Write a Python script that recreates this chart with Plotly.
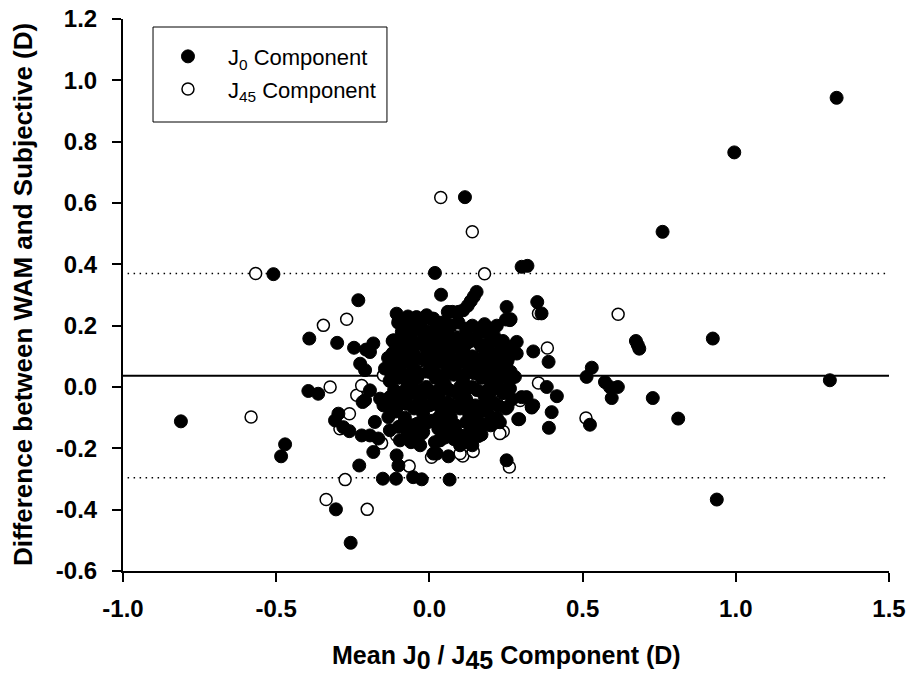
import plotly.graph_objects as go

# ---------------- data ----------------
# J0 component: mean (x) and difference (y)
j0_x = [
    -0.811, -0.509, -0.471, -0.484, -0.392, -0.395, -0.363, -0.301, -0.246, -0.232,
    -0.207, -0.183, -0.194, -0.226, -0.210, -0.194, -0.210, -0.218, -0.161, -0.139,
    -0.129, -0.150, -0.297, -0.308, -0.281, -0.261, -0.221, -0.194, -0.167, -0.178,
    -0.183, -0.229, -0.305, -0.257, -0.152, -0.109, -0.053, -0.025, 0.066, -0.107,
    -0.101, -0.115, -0.085, -0.107, -0.085, -0.042, -0.009, 0.013, 0.018, 0.038,
    0.116, 0.154, 0.145, 0.135, 0.125, 0.110, 0.095, 0.075, 0.060, 0.301,
    0.320, 0.252, 0.265, 0.352, 0.366, 0.761, 0.995, 1.329, 0.674, 0.680,
    0.685, 0.925, 1.307, 0.530, 0.513, 0.573, 0.589, 0.615, 0.595, 0.729,
    0.812, 0.938, 0.524, 0.339, 0.389, 0.285, 0.285, 0.263, 0.383, 0.416,
    0.399, 0.390, 0.334, 0.301, 0.293, 0.252, 0.013, 0.062, 0.032, -0.025,
    -0.020, 0.018, 0.029, 0.024, 0.279, 0.203, 0.236, 0.263, 0.339,
    # dense central cloud
    -0.100, -0.070, -0.040, -0.010, 0.010, 0.040, 0.070, 0.120, 0.160, 0.200, 0.220, 0.250,
    -0.120, -0.090, -0.060, -0.030, 0.000, 0.030, 0.060, 0.090, 0.120, 0.150, 0.180, 0.210, 0.240,
    -0.120, -0.100, -0.070, -0.040, -0.010, 0.020, 0.050, 0.080, 0.110, 0.140, 0.170, 0.200, 0.230, 0.260,
    -0.110, -0.080, -0.050, -0.020, 0.010, 0.040, 0.070, 0.100, 0.130, 0.160, 0.190, 0.220, 0.250,
    -0.130, -0.100, -0.070, -0.040, -0.010, 0.020, 0.050, 0.080, 0.110, 0.140, 0.170, 0.200, 0.230, 0.260,
    -0.120, -0.090, -0.060, -0.030, 0.000, 0.030, 0.060, 0.090, 0.120, 0.150, 0.180, 0.210, 0.240, 0.270, 0.317,
    -0.110, -0.080, -0.050, -0.020, 0.010, 0.040, 0.070, 0.100, 0.130, 0.160, 0.190, 0.220, 0.250, 0.290, 0.334,
    -0.100, -0.070, -0.040, 0.070, 0.090, 0.110, 0.130, 0.150, 0.170, 0.190,
    -0.096, -0.060, -0.030, 0.035, 0.080, 0.100, 0.120, 0.140,
    -0.050, 0.000, 0.050, 0.100, 0.000, 0.060, 0.030, -0.020, 0.080, 0.150, -0.080, 0.120,
    -0.140, -0.145, -0.134, -0.129, -0.118, -0.118, -0.102, 0.180, 0.205, 0.165,
    -0.085, -0.055, -0.025, 0.025, 0.055, 0.095, 0.140, 0.180,
    -0.105, -0.075, -0.045, -0.015, 0.015, 0.045, 0.075, 0.105, 0.135, 0.165, 0.195, 0.225, 0.260,
    -0.135, -0.105, -0.075, -0.045, -0.015, 0.015, 0.045, 0.075, 0.105, 0.135, 0.165, 0.195, 0.225, 0.255,
    -0.125, -0.095, -0.065, -0.035, -0.005, 0.025, 0.055, 0.085, 0.115, 0.145, 0.175, 0.205, 0.235, 0.265,
    -0.115, -0.085, -0.055, -0.025, 0.005, 0.035, 0.065, 0.095, 0.125, 0.155, 0.185, 0.215, 0.245,
    -0.135, -0.105, -0.075, -0.045, -0.015, 0.015, 0.045, 0.075, 0.105, 0.135, 0.165, 0.195, 0.225, 0.255,
    -0.085, -0.055, -0.005, 0.045, 0.085, 0.120, 0.160, 0.200, 0.230,
    -0.075, -0.045, 0.050, 0.090, 0.130, 0.160,
]
j0_y = [
    -0.112, 0.368, -0.187, -0.226, 0.158, -0.013, -0.022, 0.144, 0.128, 0.283,
    0.122, 0.142, 0.114, 0.076, 0.055, -0.011, -0.043, -0.049, -0.038, -0.054,
    -0.033, -0.060, -0.087, -0.109, -0.131, -0.144, -0.158, -0.158, -0.168, -0.114,
    -0.212, -0.256, -0.399, -0.508, -0.299, -0.299, -0.294, -0.301, -0.302, -0.223,
    -0.256, 0.152, 0.198, 0.239, 0.207, 0.228, 0.234, 0.223, 0.372, 0.301,
    0.619, 0.310, 0.295, 0.280, 0.265, 0.250, 0.245, 0.245, 0.245, 0.392,
    0.395, 0.261, 0.221, 0.277, 0.240, 0.506, 0.765, 0.943, 0.150, 0.137,
    0.125, 0.158, 0.022, 0.063, 0.033, 0.016, 0.000, 0.000, -0.036, -0.036,
    -0.103, -0.367, -0.123, 0.116, 0.082, 0.147, 0.109, 0.218, 0.000, -0.030,
    -0.082, -0.133, -0.067, -0.033, -0.105, -0.239, -0.217, -0.226, -0.174, -0.152,
    -0.147, -0.180, -0.136, -0.217, 0.033, -0.011, -0.011, -0.005, -0.060,
    # dense central cloud
    0.220, 0.230, 0.225, 0.230, 0.220, 0.210, 0.200, 0.190, 0.190, 0.190, 0.200, 0.220,
    0.150, 0.180, 0.170, 0.190, 0.180, 0.170, 0.180, 0.160, 0.170, 0.160, 0.180, 0.170, 0.150,
    0.110, 0.130, 0.120, 0.140, 0.120, 0.130, 0.110, 0.130, 0.120, 0.100, 0.130, 0.110, 0.120, 0.100,
    0.070, 0.080, 0.060, 0.090, 0.070, 0.080, 0.060, 0.080, 0.070, 0.050, 0.080, 0.060, 0.070,
    0.020, 0.030, 0.010, 0.030, 0.000, 0.030, 0.010, 0.040, 0.020, 0.000, 0.030, 0.010, 0.030, 0.020,
    -0.030, -0.050, -0.020, -0.040, -0.060, -0.030, -0.050, -0.020, -0.040, -0.060, -0.030, -0.050, -0.020, -0.040, -0.033,
    -0.080, -0.100, -0.070, -0.090, -0.110, -0.080, -0.100, -0.070, -0.090, -0.110, -0.080, -0.100, -0.070, -0.105, -0.065,
    -0.130, -0.150, -0.120, -0.140, -0.150, -0.160, -0.150, -0.130, -0.155, -0.120,
    -0.174, -0.180, -0.190, -0.174, -0.170, -0.190, -0.180, -0.190,
    0.105, 0.050, 0.150, 0.000, -0.020, 0.090, -0.100, 0.160, -0.060, 0.090, -0.030, 0.140,
    -0.043, 0.060, -0.098, -0.141, 0.152, 0.109, 0.210, 0.100, 0.050, -0.080,
    0.205, 0.200, 0.210, 0.200, 0.205, 0.210, 0.200, 0.205,
    0.145, 0.150, 0.140, 0.150, 0.145, 0.150, 0.140, 0.145, 0.150, 0.140, 0.145, 0.150, 0.130,
    0.095, 0.090, 0.100, 0.095, 0.090, 0.100, 0.095, 0.090, 0.100, 0.095, 0.090, 0.100, 0.095, 0.085,
    0.045, 0.050, 0.040, 0.045, 0.050, 0.040, 0.045, 0.050, 0.040, 0.045, 0.050, 0.040, 0.045, 0.050,
    -0.010, -0.015, -0.005, -0.010, -0.015, -0.005, -0.010, -0.015, -0.005, -0.010, -0.015, -0.005, -0.010,
    -0.060, -0.065, -0.055, -0.060, -0.065, -0.055, -0.060, -0.065, -0.055, -0.060, -0.065, -0.055, -0.060, -0.065,
    -0.120, -0.125, -0.115, -0.120, -0.125, -0.115, -0.120, -0.125, -0.115,
    -0.165, -0.160, -0.165, -0.160, -0.165, -0.160,
]

# J45 component: mean (x) and difference (y)
j45_x = [
    -0.567, 0.037, 0.140, 0.180, -0.270, -0.346, 0.356, 0.616, 0.385, 0.230,
    0.356, 0.296, 0.241, 0.230, 0.261, 0.109, 0.143, 0.176, -0.582, -0.324,
    -0.218, -0.237, -0.261, -0.292, -0.156, -0.275, -0.337, -0.203, -0.066, 0.007,
    0.511, -0.120, -0.150, 0.056, 0.094, -0.020, 0.024, 0.132, -0.107, 0.100,
    -0.080, -0.221,
]
j45_y = [
    0.370, 0.618, 0.506, 0.369, 0.221, 0.201, 0.240, 0.237, 0.127, 0.142,
    0.013, -0.044, -0.145, -0.152, -0.261, -0.225, -0.210, -0.016, -0.098, 0.000,
    0.000, -0.027, -0.087, -0.136, -0.183, -0.302, -0.367, -0.399, -0.258, -0.229,
    -0.101, 0.109, 0.038, 0.207, 0.201, 0.049, -0.038, -0.103, -0.158, -0.217,
    -0.120, 0.005,
]

mean_difference = 0.037
upper_limit = 0.370
lower_limit = -0.296

x_tick_values = [-1.0, -0.5, 0.0, 0.5, 1.0, 1.5]
x_tick_labels = ["-1.0", "-0.5", "0.0", "0.5", "1.0", "1.5"]
y_tick_values = [-0.6, -0.4, -0.2, 0.0, 0.2, 0.4, 0.6, 0.8, 1.0, 1.2]
y_tick_labels = ["-0.6", "-0.4", "-0.2", "0.0", "0.2", "0.4", "0.6", "0.8", "1.0", "1.2"]

# ---------------- figure ----------------
FONT = "Liberation Sans, Arial, Helvetica, sans-serif"

fig = go.Figure()

fig.add_trace(go.Scatter(
    x=j45_x, y=j45_y, mode="markers",
    name="J<sub>45</sub> Component", legendrank=2, legendgroup="b",
    marker=dict(symbol="circle", size=12, color="white",
                line=dict(color="black", width=1.5)),
))
fig.add_trace(go.Scatter(
    x=j0_x, y=j0_y, mode="markers",
    name="J<sub>0</sub> Component", legendrank=1, legendgroup="a",
    marker=dict(symbol="circle", size=13, color="black",
                line=dict(color="black", width=1)),
))

# reference lines (mean difference and limits of agreement)
fig.add_shape(type="line", xref="paper", yref="y", x0=0, x1=1,
              y0=mean_difference, y1=mean_difference,
              line=dict(color="black", width=2), layer="below")
for lim in (upper_limit, lower_limit):
    fig.add_shape(type="line", xref="paper", yref="y", x0=0.006, x1=1,
                  y0=lim, y1=lim,
                  line=dict(color="black", width=1.5, dash="1.5px,4.5px"), layer="below")

# legend box
fig.add_shape(type="rect", xref="paper", yref="paper",
              x0=0.0392, x1=0.3446, y0=0.8134, y1=0.9855,
              line=dict(color="black", width=1), fillcolor="rgba(0,0,0,0)")

axis_common = dict(
    showgrid=False, zeroline=False, showline=True, linecolor="black", linewidth=2,
    ticks="outside", ticklen=9, tickwidth=2, tickcolor="black",
    tickfont=dict(family=FONT, size=24, color="black", weight="bold"),
    automargin=False,
)

fig.update_layout(
    width=912, height=676,
    margin=dict(l=123, r=23, t=19, b=105),
    paper_bgcolor="white", plot_bgcolor="white",
    font=dict(family=FONT, color="black"),
    xaxis=dict(range=[-1.0, 1.5], tickvals=x_tick_values, ticktext=x_tick_labels,
               ticklabelstandoff=6, **axis_common),
    yaxis=dict(range=[-0.6, 1.2], tickvals=y_tick_values, ticktext=y_tick_labels,
               ticklabelstandoff=10, **axis_common),
    showlegend=True,
    legend=dict(x=0.0326, y=0.97, xanchor="left", yanchor="top",
                bgcolor="rgba(0,0,0,0)", borderwidth=0,
                font=dict(family=FONT, size=22, color="black"),
                itemwidth=70, tracegroupgap=1, traceorder="grouped"),
    annotations=[
        dict(text="Difference between WAM and Subjective (D)", textangle=-90,
             xref="paper", yref="paper", x=-0.1305, y=0.5,
             xanchor="center", yanchor="middle", showarrow=False,
             font=dict(family=FONT, size=26, color="black", weight="bold")),
        dict(text="Mean J<sub><span style=\"font-size:25px\">0</span></sub> / "
                  "J<sub><span style=\"font-size:25px\">45</span></sub> Component (D)",
             xref="paper", yref="paper", x=0.5, y=-0.156,
             xanchor="center", yanchor="middle", showarrow=False,
             font=dict(family=FONT, size=25, color="black", weight="bold")),
    ],
)

fig.write_html("out.html")
